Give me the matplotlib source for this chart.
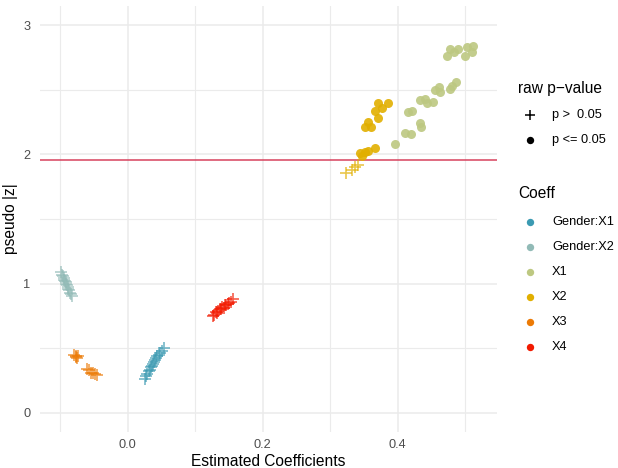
import matplotlib
matplotlib.use("Agg")
import matplotlib.pyplot as plt

plt.rcParams['font.family'] = ['Liberation Sans', 'DejaVu Sans']

coeffs = ["Gender:X1", "Gender:X2", "X1", "X2", "X3", "X4"]
colors = ["#3B9AB2", "#91BAB6", "#BDC881", "#E1AF00", "#EC7A05", "#F21A00"]

# Each cluster: estimates, pseudo |z|, significant flag (p <= 0.05)
gx1_est = [0.025, 0.027, 0.029, 0.031, 0.033, 0.034, 0.036, 0.037, 0.039, 0.040, 0.042, 0.044, 0.046, 0.048, 0.050, 0.053]
gx1_z   = [0.26, 0.28, 0.30, 0.32, 0.33, 0.35, 0.36, 0.38, 0.39, 0.41, 0.42, 0.44, 0.45, 0.46, 0.48, 0.50]
gx1_sig = [0] * 16

gx2_est = [-0.099, -0.097, -0.096, -0.095, -0.094, -0.093, -0.092, -0.091, -0.090, -0.089, -0.088, -0.087, -0.086, -0.084, -0.082]
gx2_z   = [1.09, 1.07, 1.06, 1.04, 1.03, 1.02, 1.01, 1.00, 0.99, 0.97, 0.96, 0.95, 0.93, 0.92, 0.90]
gx2_sig = [0] * 15

x1_est = [0.396, 0.410, 0.419, 0.433, 0.434, 0.415, 0.421, 0.433, 0.440, 0.443, 0.452, 0.455, 0.461, 0.462,
          0.477, 0.481, 0.487, 0.473, 0.477, 0.484, 0.489, 0.499, 0.502, 0.510, 0.511]
x1_z   = [2.08, 2.17, 2.16, 2.24, 2.21, 2.33, 2.34, 2.42, 2.43, 2.40, 2.41, 2.50, 2.52, 2.48,
          2.51, 2.53, 2.56, 2.76, 2.82, 2.79, 2.82, 2.76, 2.83, 2.79, 2.84]
x1_sig = [1] * 25

x2_est = [0.324, 0.332, 0.336, 0.341, 0.344, 0.347, 0.351, 0.356, 0.366, 0.351, 0.356, 0.361, 0.370, 0.366, 0.370, 0.376, 0.385]
x2_z   = [1.86, 1.88, 1.90, 1.92, 2.01, 1.99, 2.02, 2.03, 2.05, 2.21, 2.25, 2.21, 2.28, 2.34, 2.40, 2.36, 2.40]
x2_sig = [0, 0, 0, 0, 1, 1, 1, 1, 1, 1, 1, 1, 1, 1, 1, 1, 1]

x3_est = [-0.079, -0.077, -0.076, -0.074, -0.075, -0.060, -0.057, -0.054, -0.051, -0.049, -0.046]
x3_z   = [0.45, 0.44, 0.43, 0.44, 0.42, 0.34, 0.33, 0.31, 0.31, 0.30, 0.29]
x3_sig = [0] * 11

x4_est = [0.126, 0.128, 0.130, 0.132, 0.134, 0.136, 0.138, 0.140, 0.142, 0.144, 0.146, 0.148, 0.150, 0.153, 0.156]
x4_z   = [0.75, 0.76, 0.78, 0.77, 0.79, 0.80, 0.80, 0.82, 0.81, 0.83, 0.83, 0.84, 0.85, 0.86, 0.88]
x4_sig = [0] * 15

series = {
    "Gender:X1": (gx1_est, gx1_z, gx1_sig),
    "Gender:X2": (gx2_est, gx2_z, gx2_sig),
    "X1": (x1_est, x1_z, x1_sig),
    "X2": (x2_est, x2_z, x2_sig),
    "X3": (x3_est, x3_z, x3_sig),
    "X4": (x4_est, x4_z, x4_sig),
}

z_crit = 1.96
x_ticks = [0.0, 0.2, 0.4]
x_tick_labels = ["0.0", "0.2", "0.4"]
y_ticks = [0, 1, 2, 3]
y_tick_labels = ["0", "1", "2", "3"]
p_labels = ["p >  0.05", "p <= 0.05"]

TITLE_FS = 11.2
TEXT_FS = 9.2

W, H = 618, 468
fig = plt.figure(figsize=(W / 100, H / 100), dpi=100)
ax = fig.add_axes([40 / W, (H - 432) / H, (497 - 40) / W, (432 - 6) / H])

ax.set_xlim(-0.130, 0.547)
ax.set_ylim(-0.15, 3.15)
for s in ax.spines.values():
    s.set_visible(False)

grid_c = "#EBEBEB"
ax.set_xticks(x_ticks)
ax.set_xticklabels(x_tick_labels)
ax.set_yticks(y_ticks)
ax.set_yticklabels(y_tick_labels)
ax.set_xticks([-0.1, 0.1, 0.3, 0.5], minor=True)
ax.set_yticks([0.5, 1.5, 2.5], minor=True)
ax.grid(True, which="major", color=grid_c, linewidth=1.1)
ax.grid(True, which="minor", color=grid_c, linewidth=0.8)
ax.tick_params(which="both", length=0, labelsize=TEXT_FS, labelcolor="#4D4D4D")
ax.tick_params(axis="x", pad=5)
ax.tick_params(axis="y", pad=7)
ax.set_axisbelow(True)

ax.axhline(z_crit, color="#D7425E", linewidth=1.1, zorder=2)

for name, col in zip(coeffs, colors):
    est, z, sig = series[name]
    ns_x = [e for e, s in zip(est, sig) if not s]
    ns_y = [v for v, s in zip(z, sig) if not s]
    sg_x = [e for e, s in zip(est, sig) if s]
    sg_y = [v for v, s in zip(z, sig) if s]
    if ns_x:
        ax.plot(ns_x, ns_y, linestyle="none", marker="+", markersize=8, markeredgewidth=1.2,
                color=col, alpha=0.7, zorder=3)
    if sg_x:
        ax.plot(sg_x, sg_y, linestyle="none", marker="o", markersize=6.5, markeredgewidth=0,
                color=col, alpha=0.9, zorder=3)

ax.set_xlabel("Estimated Coefficients", fontsize=TITLE_FS, color="black", labelpad=2)
ax.set_ylabel("pseudo |z|", fontsize=TITLE_FS, color="black", labelpad=4)

# Legends
lg = fig.add_axes([0, 0, 1, 1])
lg.set_xlim(0, W)
lg.set_ylim(H, 0)
lg.axis("off")

lg.text(518, 88, "raw p\u2212value", fontsize=TITLE_FS, va="center", ha="left")
lg.plot([530], [115], marker="+", markersize=7, markeredgewidth=1.1, color="black", linestyle="none")
lg.text(552, 115, p_labels[0], fontsize=TEXT_FS, va="center", ha="left")
lg.plot([530], [140], marker="o", markersize=5.3, markeredgewidth=0, color="black", linestyle="none")
lg.text(552, 140, p_labels[1], fontsize=TEXT_FS, va="center", ha="left")

lg.text(518, 193, "Coeff", fontsize=TITLE_FS, va="center", ha="left")
for i, (name, col) in enumerate(zip(coeffs, colors)):
    yy = 222 + 25 * i
    lg.plot([530], [yy], marker="o", markersize=5.3, markeredgewidth=0, color=col, linestyle="none")
    lg.text(552, yy, name, fontsize=TEXT_FS, va="center", ha="left")

fig.savefig("out.png", dpi=100)
